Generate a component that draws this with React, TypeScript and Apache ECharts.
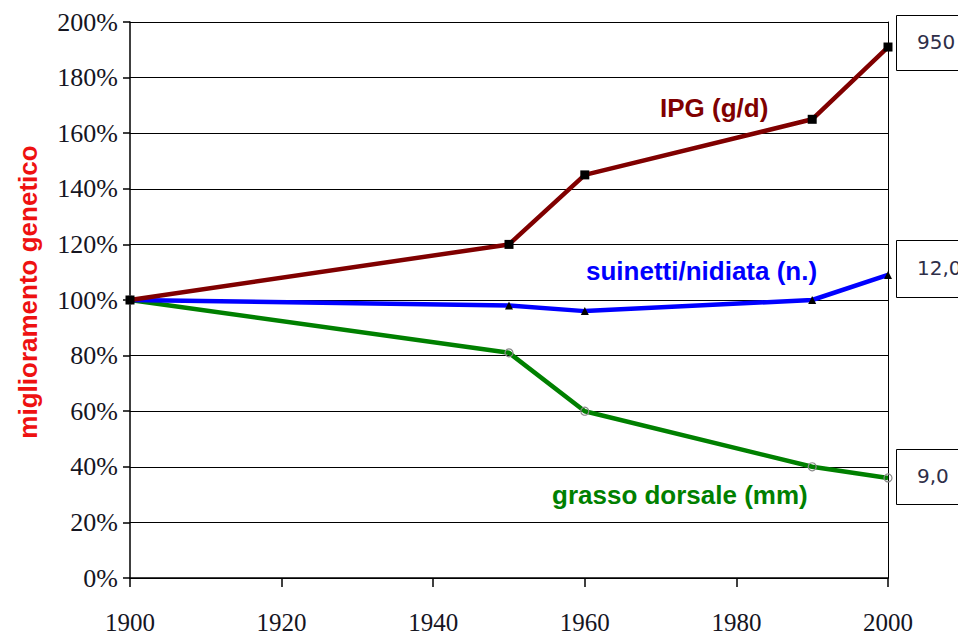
import React, { useEffect, useRef } from "react";
import * as echarts from "echarts";

const years = [1900, 1950, 1960, 1990, 2000];
const ipg = [100, 120, 145, 165, 191];
const suinetti = [100, 98, 96, 100, 109];
const grasso = [100, 81, 60, 40, 36];
const yTicks = { min: 0, max: 200, interval: 20 };
const xTicks = { min: 1900, max: 2000, interval: 20 };
const seriesNames = ["IPG (g/d)", "suinetti/nidiata (n.)", "grasso dorsale (mm)"];
const endValues = ["950", "12,0", "9,0"];
const yTitle = "miglioramento genetico";

const pairs = (ys: number[]) => years.map((x, i) => [x, ys[i]]);

export default function App() {
  const ref = useRef<HTMLDivElement>(null);
  useEffect(() => {
    if (!ref.current) return;
    const chart = echarts.init(ref.current, null, { renderer: "svg" });
    const serif = "'Liberation Serif', 'Times New Roman', serif";
    const sans = "'Liberation Sans', Arial, sans-serif";
    const box = (y: number, h: number, text: string, ty: number) => [
      {
        type: "rect",
        shape: { x: 896.5, y: y + 0.5, width: 90, height: h },
        style: { fill: "#fff", stroke: "#000", lineWidth: 1 },
        z: 10,
      },
      {
        type: "text",
        x: 917,
        y: ty,
        style: {
          text,
          font: "20px 'DejaVu Sans', sans-serif",
          fill: "#2e2e48",
          verticalAlign: "middle",
          align: "left",
        },
        z: 11,
      },
    ];
    chart.setOption({
      animation: false,
      backgroundColor: "#fff",
      grid: { left: 130, right: 70, top: 22, bottom: 60, containLabel: false },
      xAxis: {
        type: "value",
        min: xTicks.min,
        max: xTicks.max,
        interval: xTicks.interval,
        axisLine: { show: true, onZero: false, lineStyle: { color: "#000", width: 1.5 } },
        axisTick: { show: true, length: 9, lineStyle: { color: "#000", width: 1.5 } },
        axisLabel: {
          margin: 32,
          color: "#15151f",
          fontFamily: serif,
          fontSize: 25,
          formatter: (v: number) => String(v),
        },
        splitLine: { show: false },
      },
      yAxis: [
        {
          type: "value",
          min: yTicks.min,
          max: yTicks.max,
          interval: yTicks.interval,
          axisLine: { show: true, lineStyle: { color: "#000", width: 1.5 } },
          axisTick: { show: true, length: 7, lineStyle: { color: "#000", width: 1.5 } },
          axisLabel: {
            formatter: "{value}%",
            margin: 12,
            color: "#15151f",
            fontFamily: serif,
            fontSize: 26,
          },
          splitLine: { show: true, lineStyle: { color: "#000", width: 1 } },
        },
        {
          type: "value",
          position: "right",
          min: yTicks.min,
          max: yTicks.max,
          interval: yTicks.interval,
          axisLine: { show: true, lineStyle: { color: "#000", width: 1 } },
          axisTick: { show: false },
          axisLabel: { show: false },
          splitLine: { show: false },
        },
      ],
      series: [
        {
          name: seriesNames[2],
          type: "line",
          data: pairs(grasso),
          lineStyle: { color: "#008000", width: 4.5 },
          symbol: "circle",
          symbolSize: 8,
          itemStyle: { color: "rgba(255,255,255,0)", borderColor: "#8a8a8a", borderWidth: 1.2 },
          z: 3,
        },
        {
          name: seriesNames[1],
          type: "line",
          data: pairs(suinetti),
          lineStyle: { color: "#0000ff", width: 4.5 },
          symbol: "triangle",
          symbolSize: 8,
          itemStyle: { color: "#000" },
          z: 4,
        },
        {
          name: seriesNames[0],
          type: "line",
          data: pairs(ipg),
          lineStyle: { color: "#800000", width: 4.5 },
          symbol: "rect",
          symbolSize: 9,
          itemStyle: { color: "#000" },
          z: 5,
        },
      ],
      graphic: [
        {
          type: "text",
          x: 28,
          y: 292,
          rotation: Math.PI / 2,
          style: {
            text: yTitle,
            font: `bold 26px ${sans}`,
            fill: "#ee1111",
            align: "center",
            verticalAlign: "middle",
          },
        },
        {
          type: "text",
          x: 660,
          y: 108,
          style: { text: seriesNames[0], font: `bold 26px ${sans}`, fill: "#800000", verticalAlign: "middle" },
        },
        {
          type: "text",
          x: 586,
          y: 271,
          style: { text: seriesNames[1], font: `bold 26px ${sans}`, fill: "#0000ff", verticalAlign: "middle" },
        },
        {
          type: "text",
          x: 552,
          y: 495,
          style: { text: seriesNames[2], font: `bold 26px ${sans}`, fill: "#008000", verticalAlign: "middle" },
        },
        ...box(15, 55, endValues[0], 42),
        ...box(240, 57, endValues[1], 268),
        ...box(449, 55, endValues[2], 476),
      ],
    });
    return () => chart.dispose();
  }, []);
  return (
    <div
      ref={ref}
      style={{ position: "fixed", left: 0, top: 0, width: 958, height: 638 }}
    />
  );
}
